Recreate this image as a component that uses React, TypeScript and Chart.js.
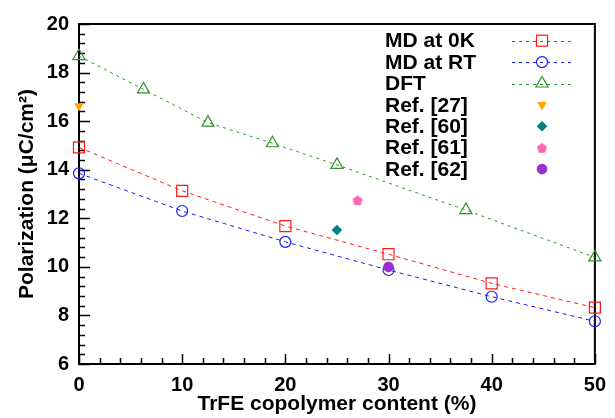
import React, { useEffect, useRef } from 'react';
import { Chart, registerables } from 'chart.js';

Chart.register(...registerables);

const FONT = "'Liberation Sans', Arial, Helvetica, sans-serif";

// ---- data ----
const xMD = [0, 10, 20, 30, 40, 50];
const md0K = [14.92, 13.13, 11.68, 10.52, 9.32, 8.32];
const mdRT = [13.85, 12.3, 11.03, 9.87, 8.77, 7.76];
const xDFT = [0, 6.25, 12.5, 18.75, 25, 37.5, 50];
const dft = [18.68, 17.31, 15.94, 15.09, 14.2, 12.34, 10.39];
const ref27X = [0];
const ref27Y = [16.62];
const ref60X = [25];
const ref60Y = [11.52];
const ref61X = [27];
const ref61Y = [12.75];
const ref62X = [30];
const ref62Y = [10.0];

const seriesLabels = ['MD at 0K', 'MD at RT', 'DFT', 'Ref. [27]', 'Ref. [60]', 'Ref. [61]', 'Ref. [62]'];
const xTicks = [0, 10, 20, 30, 40, 50];
const yTicks = [6, 8, 10, 12, 14, 16, 18, 20];
const xTitle = 'TrFE copolymer content (%)';
const yTitle = 'Polarization (\u03BCC/cm\u00B2)';

// ---- styles ----
const RED = '#ff1a1a';
const BLUE = '#1a1aff';
const GREEN = '#2f922f';
const ORANGE = '#ffa500';
const TEAL = '#008080';
const PINK = '#ff69b4';
const PURPLE = '#9932cc';

const pts = (xs: number[], ys: number[]) => xs.map((x, i) => ({ x, y: ys[i] }));

function makePentagon(): HTMLCanvasElement {
  const c = document.createElement('canvas');
  c.width = 12;
  c.height = 12;
  const g = c.getContext('2d')!;
  g.fillStyle = PINK;
  g.beginPath();
  for (let i = 0; i < 5; i++) {
    const a = -Math.PI / 2 + (i * 2 * Math.PI) / 5;
    const px = 6 + 5.3 * Math.cos(a);
    const py = 6.6 + 5.3 * Math.sin(a);
    if (i === 0) g.moveTo(px, py);
    else g.lineTo(px, py);
  }
  g.closePath();
  g.fill();
  return c;
}

export default function App() {
  const ref = useRef<HTMLCanvasElement>(null);

  useEffect(() => {
    document.body.style.margin = '0';
    const canvas = ref.current!;
    const pent = makePentagon();

    const frame = {
      id: 'frame',
      beforeDatasetsDraw(chart: any) {
        const { ctx, chartArea } = chart;
        const { left, right, top, bottom } = chartArea;
        const xs = chart.scales.x;
        const ys = chart.scales.y;
        ctx.save();
        ctx.strokeStyle = '#000';
        ctx.lineWidth = 1.5;
        ctx.beginPath();
        for (let v = 0; v <= 50.001; v += 2) {
          const px = Math.round(xs.getPixelForValue(v)) + 0.5;
          const major = Math.abs(v / 10 - Math.round(v / 10)) < 1e-6;
          const len = major ? 10 : 6;
          ctx.moveTo(px, bottom);
          ctx.lineTo(px, bottom - len);
        }
        for (let i = 0; i <= 35; i++) {
          const v = 6 + i * 0.4;
          const py = Math.round(ys.getPixelForValue(v)) + 0.5;
          const len = i % 5 === 0 ? 11 : 6;
          ctx.moveTo(left, py);
          ctx.lineTo(left + len, py);
        }
        ctx.stroke();
        ctx.lineWidth = 2;
        ctx.strokeRect(left, top, right - left, bottom - top);
        ctx.restore();
      },
    };

    const drawSym = (ctx: CanvasRenderingContext2D, i: number, x: number, y: number) => {
      ctx.save();
      ctx.setLineDash([]);
      if (i === 0) {
        ctx.strokeStyle = RED;
        ctx.lineWidth = 1.2;
        ctx.strokeRect(x - 5.5, y - 5.5, 11, 11);
      } else if (i === 1) {
        ctx.strokeStyle = BLUE;
        ctx.lineWidth = 1.2;
        ctx.beginPath();
        ctx.arc(x, y, 5.5, 0, Math.PI * 2);
        ctx.stroke();
      } else if (i === 2) {
        ctx.strokeStyle = GREEN;
        ctx.lineWidth = 1.2;
        ctx.beginPath();
        ctx.moveTo(x, y - 7);
        ctx.lineTo(x + 6.1, y + 3.5);
        ctx.lineTo(x - 6.1, y + 3.5);
        ctx.closePath();
        ctx.stroke();
      } else if (i === 3) {
        ctx.fillStyle = ORANGE;
        ctx.beginPath();
        ctx.moveTo(x, y + 5.5);
        ctx.lineTo(x + 4.8, y - 2.8);
        ctx.lineTo(x - 4.8, y - 2.8);
        ctx.closePath();
        ctx.fill();
      } else if (i === 4) {
        ctx.fillStyle = TEAL;
        ctx.beginPath();
        ctx.moveTo(x, y - 5.3);
        ctx.lineTo(x + 5.3, y);
        ctx.lineTo(x, y + 5.3);
        ctx.lineTo(x - 5.3, y);
        ctx.closePath();
        ctx.fill();
      } else if (i === 5) {
        ctx.drawImage(pent, x - 6, y - 6);
      } else {
        ctx.fillStyle = PURPLE;
        ctx.beginPath();
        ctx.arc(x, y, 5.3, 0, Math.PI * 2);
        ctx.fill();
      }
      ctx.restore();
    };

    const legend = {
      id: 'customLegend',
      afterDraw(chart: any) {
        const ctx: CanvasRenderingContext2D = chart.ctx;
        const textX = 385;
        const symX = 542;
        const y0 = 40.7;
        const dy = 21.4;
        const lineColors = [RED, BLUE, GREEN];
        ctx.save();
        ctx.font = `bold 21px ${FONT}`;
        ctx.textBaseline = 'middle';
        ctx.textAlign = 'left';
        ctx.fillStyle = '#000';
        chart.data.datasets.forEach((ds: any, i: number) => {
          const y = y0 + i * dy;
          ctx.fillText(ds.label, textX, y + 1);
          if (i < 3) {
            ctx.save();
            ctx.strokeStyle = lineColors[i];
            ctx.lineWidth = 1;
            ctx.setLineDash([3, 4]);
            ctx.beginPath();
            ctx.moveTo(512, Math.round(y) + 0.5);
            ctx.lineTo(572, Math.round(y) + 0.5);
            ctx.stroke();
            ctx.restore();
          }
          drawSym(ctx, i, symX, y);
        });
        ctx.restore();
      },
    };

    const tickFont = { family: FONT, size: 20, weight: 'bold' as const };
    const titleFont = { family: FONT, size: 21, weight: 'bold' as const };

    const chart = new Chart(canvas, {
      type: 'scatter',
      data: {
        datasets: [
          {
            label: seriesLabels[0],
            data: pts(xMD, md0K),
            showLine: true,
            borderColor: RED,
            borderWidth: 1,
            borderDash: [4, 4],
            pointStyle: 'rect',
            pointRadius: 7.8,
            pointBorderColor: RED,
            pointBackgroundColor: 'rgba(0,0,0,0)',
            pointBorderWidth: 1.2,
            clip: false,
            order: 3,
          },
          {
            label: seriesLabels[1],
            data: pts(xMD, mdRT),
            showLine: true,
            borderColor: BLUE,
            borderWidth: 1,
            borderDash: [4, 4],
            pointStyle: 'circle',
            pointRadius: 5.5,
            pointBorderColor: BLUE,
            pointBackgroundColor: 'rgba(0,0,0,0)',
            pointBorderWidth: 1.2,
            clip: false,
            order: 3,
          },
          {
            label: seriesLabels[2],
            data: pts(xDFT, dft),
            showLine: true,
            borderColor: GREEN,
            borderWidth: 1,
            borderDash: [3, 4],
            pointStyle: 'triangle',
            pointRadius: 7,
            pointBorderColor: GREEN,
            pointBackgroundColor: 'rgba(0,0,0,0)',
            pointBorderWidth: 1.2,
            clip: false,
            order: 3,
          },
          {
            label: seriesLabels[3],
            data: pts(ref27X, ref27Y),
            pointStyle: 'triangle',
            pointRotation: 180,
            pointRadius: 5.5,
            pointBackgroundColor: ORANGE,
            pointBorderColor: ORANGE,
            pointBorderWidth: 0,
            clip: false,
            order: 1,
          },
          {
            label: seriesLabels[4],
            data: pts(ref60X, ref60Y),
            pointStyle: 'rectRot',
            pointRadius: 5.3,
            pointBackgroundColor: TEAL,
            pointBorderColor: TEAL,
            pointBorderWidth: 0,
            clip: false,
            order: 1,
          },
          {
            label: seriesLabels[5],
            data: pts(ref61X, ref61Y),
            pointStyle: pent,
            pointRadius: 6,
            clip: false,
            order: 1,
          },
          {
            label: seriesLabels[6],
            data: pts(ref62X, ref62Y),
            pointStyle: 'circle',
            pointRadius: 5.3,
            pointBackgroundColor: PURPLE,
            pointBorderColor: PURPLE,
            pointBorderWidth: 0,
            clip: false,
            order: 1,
          },
        ] as any,
      },
      options: {
        responsive: false,
        animation: false,
        events: [],
        layout: { padding: { top: 24, right: 18, left: 0, bottom: 0 } },
        plugins: {
          legend: { display: false },
          tooltip: { enabled: false },
        },
        scales: {
          x: {
            type: 'linear',
            min: 0,
            max: 50,
            afterBuildTicks: (s: any) => {
              s.ticks = xTicks.map((v) => ({ value: v }));
            },
            afterFit: (s: any) => {
              s.height = 54;
            },
            ticks: { font: tickFont, color: '#000', padding: 9, maxRotation: 0 },
            grid: { display: false, drawTicks: false },
            border: { display: false },
            title: { display: true, text: xTitle, font: titleFont, color: '#000', padding: { top: 0, bottom: 1 } },
          },
          y: {
            type: 'linear',
            min: 6,
            max: 20,
            afterBuildTicks: (s: any) => {
              s.ticks = yTicks.map((v) => ({ value: v }));
            },
            afterFit: (s: any) => {
              s.width = 79;
            },
            ticks: { font: tickFont, color: '#000', padding: 10 },
            grid: { display: false, drawTicks: false },
            border: { display: false },
            title: { display: true, text: yTitle, font: titleFont, color: '#000', padding: { top: 15, bottom: 0 } },
          },
        },
      },
      plugins: [frame, legend],
    } as any);

    return () => chart.destroy();
  }, []);

  return (
    <div style={{ width: 615, height: 418 }}>
      <canvas ref={ref} width={615} height={418} style={{ display: 'block', width: 615, height: 418 }} />
    </div>
  );
}
